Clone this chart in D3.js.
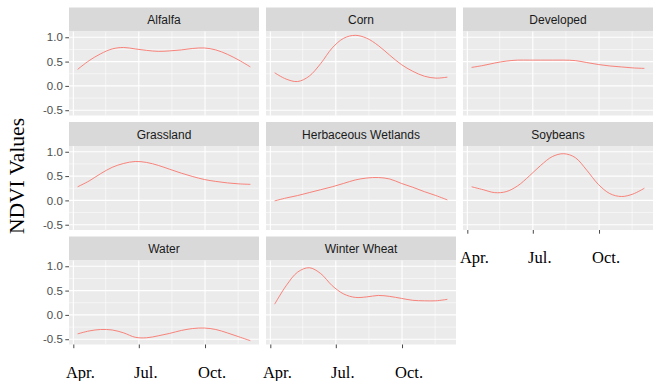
<!DOCTYPE html>
<html>
<head>
<meta charset="utf-8">
<script src="https://cdn.jsdelivr.net/npm/d3@7"></script>
<style>
  body { margin: 0; background: #ffffff; }
  svg { display: block; }
</style>
</head>
<body>
<svg id="chart" width="653" height="381"></svg>
<script>
// 16-day composite dates of the NDVI profiles
const dates = ["2016-04-07","2016-04-23","2016-05-09","2016-05-25","2016-06-10","2016-06-26",
               "2016-07-12","2016-07-28","2016-08-13","2016-08-29","2016-09-14","2016-09-30",
               "2016-10-16","2016-11-01","2016-11-17","2016-12-03"];

// land cover classes, in facet order
const landCovers = ["Alfalfa","Corn","Developed","Grassland","Herbaceous Wetlands","Soybeans","Water","Winter Wheat"];

// mean NDVI per composite date
const alfalfa     = [0.34, 0.52, 0.66, 0.76, 0.79, 0.76, 0.73, 0.71, 0.72, 0.74, 0.77, 0.78, 0.74, 0.65, 0.53, 0.39];
const corn        = [0.27, 0.14, 0.09, 0.20, 0.46, 0.78, 0.98, 1.04, 0.98, 0.83, 0.63, 0.44, 0.30, 0.20, 0.16, 0.18];
const developed   = [0.38, 0.42, 0.47, 0.51, 0.53, 0.53, 0.53, 0.53, 0.53, 0.52, 0.48, 0.44, 0.41, 0.39, 0.37, 0.36];
const grassland   = [0.28, 0.40, 0.55, 0.68, 0.76, 0.80, 0.78, 0.72, 0.64, 0.56, 0.49, 0.43, 0.39, 0.36, 0.34, 0.33];
const wetlands    = [-0.01, 0.05, 0.10, 0.16, 0.22, 0.28, 0.35, 0.42, 0.46, 0.47, 0.44, 0.35, 0.27, 0.18, 0.10, 0.01];
const soybeans    = [0.28, 0.22, 0.16, 0.18, 0.30, 0.50, 0.72, 0.90, 0.96, 0.88, 0.62, 0.33, 0.14, 0.08, 0.13, 0.25];
const water       = [-0.39, -0.33, -0.30, -0.31, -0.37, -0.46, -0.47, -0.43, -0.38, -0.32, -0.28, -0.27, -0.30, -0.37, -0.45, -0.53];
const winterWheat = [0.22, 0.60, 0.88, 0.97, 0.85, 0.60, 0.43, 0.36, 0.37, 0.40, 0.38, 0.34, 0.30, 0.29, 0.29, 0.32];

const seriesValues = [alfalfa, corn, developed, grassland, wetlands, soybeans, water, winterWheat];

// axis breaks and labels
const yBreaks = [-0.5, 0.0, 0.5, 1.0];
const yMinorBreaks = [-0.25, 0.25, 0.75];
const monthBreaks = ["2016-04-01","2016-07-01","2016-10-01"];
const monthLabels = ["Apr.","Jul.","Oct."];
const monthMinorBreaks = ["2016-05-16","2016-08-16","2016-11-16"];
const yTitle = "NDVI Values";

// ---- layout ----
const nCol = 3;
const colLeft = [69, 266, 463];
const rowTop = [7.5, 122, 236.5];
const panelW = 190;
const stripH = 24;
const panelH = 84;

const parse = d3.utcParse("%Y-%m-%d");
const dateObjs = dates.map(parse);

// shared scales with a 5% expansion on each side
const xExt = d3.extent(dateObjs);
const xPad = (xExt[1] - xExt[0]) * 0.05;
const x = d3.scaleUtc()
  .domain([new Date(+xExt[0] - xPad), new Date(+xExt[1] + xPad)])
  .range([0, panelW]);

const allVals = seriesValues.flat();
const yExt = d3.extent(allVals);
const yPad = (yExt[1] - yExt[0]) * 0.05;
const y = d3.scaleLinear()
  .domain([yExt[0] - yPad, yExt[1] + yPad])
  .range([panelH, 0]);

const line = d3.line()
  .x(d => x(d.date))
  .y(d => y(d.value))
  .curve(d3.curveCatmullRom.alpha(0.5));

const svg = d3.select("#chart");

const defs = svg.append("defs");
defs.append("clipPath").attr("id", "panel-clip")
  .append("rect").attr("width", panelW).attr("height", panelH);

landCovers.forEach((name, i) => {
  const col = i % nCol;
  const row = Math.floor(i / nCol);
  const g = svg.append("g")
    .attr("transform", `translate(${colLeft[col]},${rowTop[row]})`);

  // strip
  g.append("rect")
    .attr("width", panelW).attr("height", stripH)
    .attr("fill", "#D9D9D9");
  g.append("text")
    .attr("x", panelW / 2).attr("y", stripH / 2 + 0.5)
    .attr("text-anchor", "middle")
    .attr("dominant-baseline", "central")
    .attr("font-family", "'Liberation Sans', Arial, sans-serif")
    .attr("font-size", 12)
    .attr("fill", "#1A1A1A")
    .text(name);

  // panel
  const p = g.append("g").attr("transform", `translate(0,${stripH})`);
  p.append("rect")
    .attr("width", panelW).attr("height", panelH)
    .attr("fill", "#EBEBEB");

  // minor grid
  p.selectAll(".ymin").data(yMinorBreaks).join("line")
    .attr("x1", 0).attr("x2", panelW)
    .attr("y1", d => y(d)).attr("y2", d => y(d))
    .attr("stroke", "#FFFFFF").attr("stroke-width", 0.55);
  p.selectAll(".xmin").data(monthMinorBreaks.map(parse).filter(d => x(d) > 0 && x(d) < panelW)).join("line")
    .attr("y1", 0).attr("y2", panelH)
    .attr("x1", d => x(d)).attr("x2", d => x(d))
    .attr("stroke", "#FFFFFF").attr("stroke-width", 0.55);

  // major grid
  p.selectAll(".ymaj").data(yBreaks).join("line")
    .attr("x1", 0).attr("x2", panelW)
    .attr("y1", d => y(d)).attr("y2", d => y(d))
    .attr("stroke", "#FFFFFF").attr("stroke-width", 1.1);
  p.selectAll(".xmaj").data(monthBreaks.map(parse)).join("line")
    .attr("y1", 0).attr("y2", panelH)
    .attr("x1", d => x(d)).attr("x2", d => x(d))
    .attr("stroke", "#FFFFFF").attr("stroke-width", 1.1);

  // NDVI profile
  const pts = dateObjs.map((d, k) => ({ date: d, value: seriesValues[i][k] }));
  p.append("path")
    .datum(pts)
    .attr("clip-path", "url(#panel-clip)")
    .attr("fill", "none")
    .attr("stroke", "#F8766D")
    .attr("stroke-width", 0.9)
    .attr("d", line);

  // left axis on first column
  if (col === 0) {
    const ay = p.append("g")
      .call(d3.axisLeft(y).tickValues(yBreaks).tickSize(3.7).tickPadding(2.5)
        .tickFormat(d => d.toFixed(1)));
    ay.select(".domain").remove();
    ay.selectAll(".tick line").attr("stroke", "#333333").attr("stroke-width", 0.9);
    ay.selectAll(".tick text")
      .attr("font-family", "'Liberation Sans', Arial, sans-serif")
      .attr("font-size", 11.5)
      .attr("fill", "#4D4D4D");
  }

  // bottom axis where no panel sits below
  if (i + nCol >= landCovers.length) {
    const ax = p.append("g")
      .attr("transform", `translate(0,${panelH})`)
      .call(d3.axisBottom(x).tickValues(monthBreaks.map(parse)).tickSize(3.7)
        .tickFormat((d, k) => monthLabels[k]));
    ax.select(".domain").remove();
    ax.selectAll(".tick line").attr("stroke", "#333333").attr("stroke-width", 0.9);
    ax.selectAll(".tick text")
      .attr("y", 33).attr("dy", null).attr("dx", 6.5)
      .attr("font-family", "'Liberation Serif', 'Times New Roman', serif")
      .attr("font-size", 16.5)
      .attr("fill", "#000000");
  }
});

// y-axis title, centred on the panel block
const blockMid = (rowTop[0] + rowTop[2] + stripH + panelH) / 2;
svg.append("text")
  .attr("transform", `translate(24,${blockMid}) rotate(-90)`)
  .attr("text-anchor", "middle")
  .attr("font-family", "'Liberation Serif', 'Times New Roman', serif")
  .attr("font-size", 21.5)
  .attr("fill", "#000000")
  .text(yTitle);
</script>
</body>
</html>
